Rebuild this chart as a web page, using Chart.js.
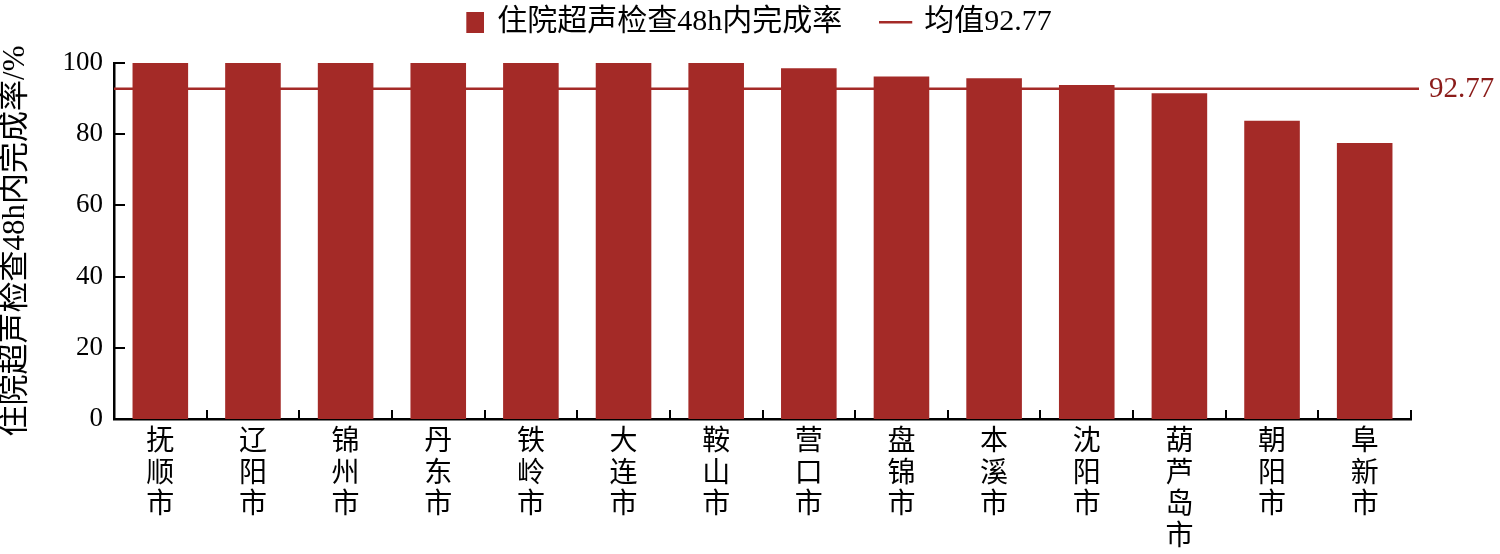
<!DOCTYPE html>
<html>
<head>
<meta charset="utf-8">
<script src="https://cdn.jsdelivr.net/npm/chart.js@4/dist/chart.umd.min.js"></script>
<style>
  html, body { margin: 0; padding: 0; background: #fff; }
  #wrap { width: 1500px; height: 554px; }
</style>
</head>
<body>
<div id="wrap"><canvas id="myChart" width="1500" height="554"></canvas></div>
<script>
// data
const cities = ["抚顺市", "辽阳市", "锦州市", "丹东市", "铁岭市", "大连市", "鞍山市",
  "营口市", "盘锦市", "本溪市", "沈阳市", "葫芦岛市", "朝阳市", "阜新市"];
const rates = [100, 100, 100, 100, 100, 100, 100, 98.5, 96.2, 95.7, 93.8, 91.5, 83.8, 77.5];
const meanValue = 92.77;
const yTicks = [0, 20, 40, 60, 80, 100];

const barColor = "#a42a27";
const lineColor = "#a42a27";
// Times-like latin, CJK falls back to Noto
const serif = "'Liberation Serif', 'Noto Sans CJK SC', serif";

// legend markers (drawn as small canvases)
function makeMarker(w, h, draw) {
  const c = document.createElement("canvas");
  c.width = w; c.height = h;
  draw(c.getContext("2d"));
  return c;
}
const barMarker = makeMarker(24, 21, (ctx) => { ctx.fillStyle = barColor; ctx.fillRect(6, 0, 18, 21); });
const lineMarker = makeMarker(40, 4, (ctx) => { ctx.fillStyle = lineColor; ctx.fillRect(0, 1, 33, 2.5); });

// mean line across the full plot, its label, inward ticks
const extras = {
  id: "extras",
  beforeDatasetsDraw(chart) {
    const { ctx, chartArea, scales } = chart;
    const y = scales.y.getPixelForValue(meanValue);
    ctx.save();
    ctx.strokeStyle = lineColor;
    ctx.lineWidth = 2.5;
    ctx.beginPath();
    ctx.moveTo(chartArea.left, y);
    ctx.lineTo(chartArea.right + 8, y);
    ctx.stroke();
    ctx.restore();
  },
  afterDraw(chart) {
    const { ctx, chartArea, scales } = chart;
    const y = scales.y.getPixelForValue(meanValue);
    ctx.save();
    ctx.fillStyle = "#8b1c1a";
    ctx.font = "29px " + serif;
    ctx.textBaseline = "middle";
    ctx.fillText(meanValue.toFixed(2), chartArea.right + 18, y + 1);

    ctx.strokeStyle = "#000";
    ctx.lineWidth = 2;
    ctx.beginPath();
    yTicks.forEach((v) => {
      const py = Math.round(scales.y.getPixelForValue(v));
      ctx.moveTo(chartArea.left, py);
      ctx.lineTo(chartArea.left + 11, py);
    });
    const step = (chartArea.right - chartArea.left) / cities.length;
    for (let i = 1; i <= cities.length; i++) {
      const px = Math.round(chartArea.left + step * i);
      ctx.moveTo(px, chartArea.bottom);
      ctx.lineTo(px, chartArea.bottom - 9);
    }
    ctx.stroke();
    ctx.restore();
  },
};

const data = {
  labels: cities.map((c) => c.split("")),
  datasets: [
    {
      type: "bar",
      label: "住院超声检查48h内完成率",
      data: rates,
      backgroundColor: barColor,
      borderWidth: 0,
      pointStyle: barMarker,
      categoryPercentage: 1,
      barPercentage: 0.6,
      order: 1,
    },
    {
      type: "line",
      label: "均值" + meanValue,
      data: cities.map(() => meanValue),
      borderColor: lineColor,
      borderWidth: 0,
      pointRadius: 0,
      showLine: false,
      pointStyle: lineMarker,
      order: 2,
    },
  ],
};

const config = {
  data,
  options: {
    responsive: false,
    animation: false,
    layout: { padding: { top: -40, right: 0, left: 14, bottom: 0 } },
    plugins: {
      tooltip: { enabled: false },
      legend: {
        position: "top",
        weight: 3000,
        labels: {
          usePointStyle: true,
          pointStyleWidth: 20,
          color: "#000",
          font: { family: serif, size: 30 },
          padding: 47,
        },
      },
      // empty spacer between legend and plot
      title: {
        display: true,
        text: "",
        weight: 1,
        padding: 0,
        font: { size: 16, lineHeight: 1 },
      },
    },
    scales: {
      x: {
        afterFit: (scale) => { scale.height = 135; },
        grid: { display: false, drawTicks: false },
        border: { display: true, color: "#000", width: 2.5 },
        ticks: {
          color: "#000",
          padding: 8,
          maxRotation: 0,
          autoSkip: false,
          font: { family: serif, size: 28, lineHeight: 1.13 },
        },
      },
      y: {
        min: 0,
        max: 100,
        afterFit: (scale) => { scale.width = 100; },
        afterBuildTicks: (scale) => { scale.ticks = yTicks.map((v) => ({ value: v })); },
        grid: { display: false, drawTicks: false },
        border: { display: true, color: "#000", width: 2.5 },
        ticks: {
          color: "#000",
          padding: 11,
          font: { family: serif, size: 27 },
        },
        title: {
          display: true,
          text: "住院超声检查48h内完成率/%",
          color: "#000",
          font: { family: serif, size: 31, lineHeight: 1 },
          padding: { top: -14, bottom: 0 },
        },
      },
      // empty right axis that keeps room for the 92.77 label
      yRight: {
        position: "right",
        min: 0,
        max: 100,
        afterFit: (scale) => { scale.width = 89; },
        grid: { display: false, drawTicks: false },
        border: { display: false },
        ticks: { display: false },
      },
    },
  },
  plugins: [extras],
};

const myChart = new Chart(document.getElementById("myChart"), config);
</script>
</body>
</html>
